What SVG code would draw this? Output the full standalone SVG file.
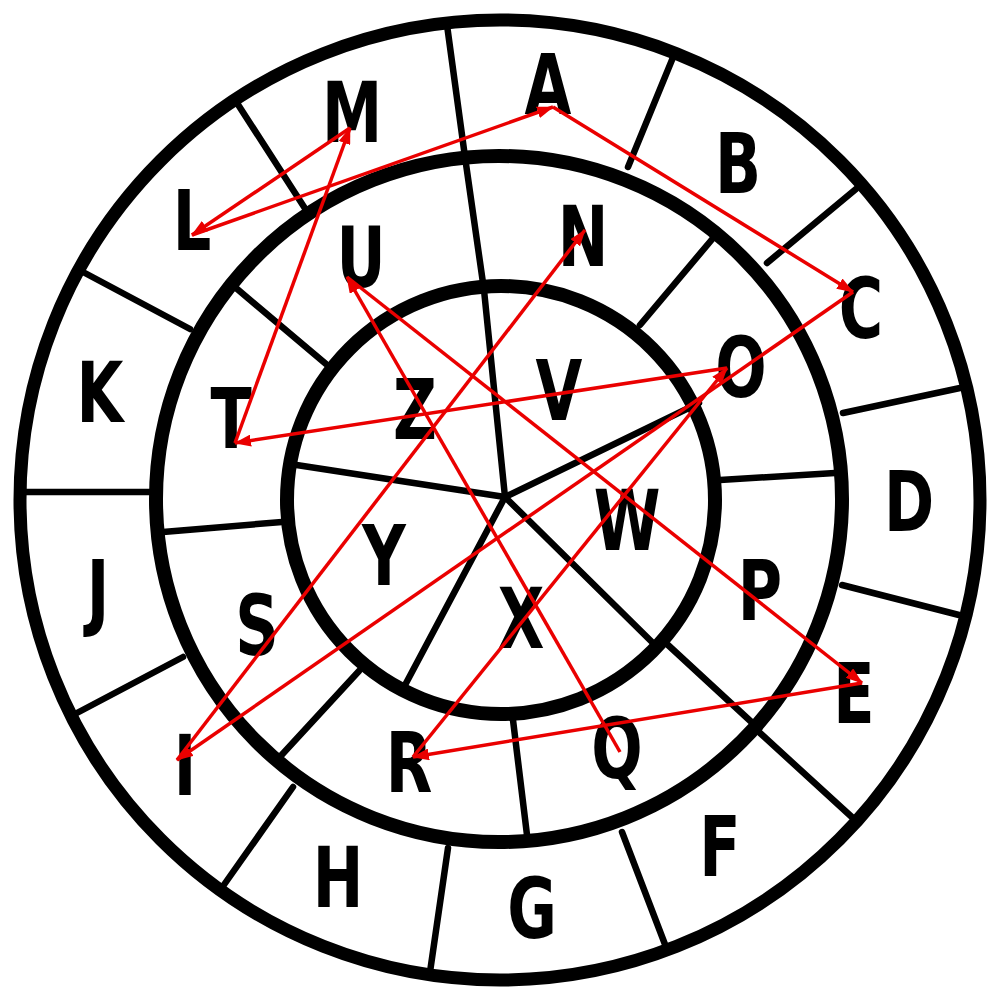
<svg xmlns="http://www.w3.org/2000/svg" width="1000" height="1000" viewBox="0 0 1000 1000">
<style>
.ring{fill:none;stroke:#000}
.sp{stroke:#000;stroke-width:6.5;stroke-linecap:round}
.lt{font-family:"DejaVu Sans Condensed","DejaVu Sans",sans-serif;font-stretch:condensed;font-weight:bold;font-size:84px;fill:#000;text-anchor:middle}
.ar{stroke:#ea0000;stroke-width:3.5;fill:none;marker-end:url(#ah)}
</style>
<defs>
<marker id="ah" markerUnits="userSpaceOnUse" markerWidth="17" markerHeight="12" refX="16" refY="6" orient="auto" viewBox="0 0 17 12">
<path d="M0,0 L17,6 L0,12 z" fill="#ea0000"/>
</marker>
</defs>
<rect width="1000" height="1000" fill="#fff"/>
<g id="rings">
<circle class="ring" cx="500" cy="500" r="480" stroke-width="13"/>
<circle class="ring" cx="499" cy="499" r="343" stroke-width="14"/>
<circle class="ring" cx="501" cy="500" r="214" stroke-width="14"/>
</g>
<g id="dividers">
<line class="sp" x1="447" y1="25" x2="465" y2="157"/>
<line class="sp" x1="674" y1="55" x2="628" y2="167"/>
<line class="sp" x1="856" y1="189" x2="767" y2="263"/>
<line class="sp" x1="960" y1="388" x2="843" y2="413"/>
<line class="sp" x1="959" y1="615" x2="842" y2="585"/>
<line class="sp" x1="854" y1="819" x2="760" y2="733"/>
<line class="sp" x1="666" y1="947" x2="622" y2="832"/>
<line class="sp" x1="430" y1="972" x2="448" y2="848"/>
<line class="sp" x1="221" y1="889" x2="293" y2="787"/>
<line class="sp" x1="75" y1="714" x2="183" y2="657"/>
<line class="sp" x1="25" y1="492" x2="150" y2="492"/>
<line class="sp" x1="83" y1="272" x2="190" y2="329"/>
<line class="sp" x1="237" y1="103" x2="306" y2="210"/>
<line class="sp" x1="465" y1="157" x2="484" y2="290"/>
<line class="sp" x1="714" y1="237" x2="640" y2="325"/>
<line class="sp" x1="835" y1="473" x2="720" y2="480"/>
<line class="sp" x1="759" y1="729" x2="668" y2="645"/>
<line class="sp" x1="513" y1="720" x2="527" y2="835"/>
<line class="sp" x1="277" y1="760" x2="359" y2="671"/>
<line class="sp" x1="163" y1="532" x2="282" y2="522"/>
<line class="sp" x1="236" y1="288" x2="326" y2="364"/>
<line class="sp" x1="505" y1="497" x2="484" y2="290"/>
<line class="sp" x1="505" y1="497" x2="699" y2="403"/>
<line class="sp" x1="505" y1="497" x2="656" y2="646"/>
<line class="sp" x1="505" y1="497" x2="404" y2="687"/>
<line class="sp" x1="505" y1="497" x2="290" y2="464"/>
</g>
<g id="letters">
<text id="A" class="lt" transform="translate(548,114) scale(0.8,1)">A</text>
<text id="B" class="lt" transform="translate(738,193) scale(0.8,1)">B</text>
<text id="C" class="lt" transform="translate(861,338) scale(0.8,1)">C</text>
<text id="D" class="lt" transform="translate(909,531) scale(0.8,1)">D</text>
<text id="E" class="lt" transform="translate(854,723) scale(0.8,1)">E</text>
<text id="F" class="lt" transform="translate(720,876) scale(0.8,1)">F</text>
<text id="G" class="lt" transform="translate(532,938) scale(0.8,1)">G</text>
<text id="H" class="lt" transform="translate(338,907) scale(0.8,1)">H</text>
<text id="I" class="lt" transform="translate(185,795) scale(0.8,1)">I</text>
<text id="J" class="lt" transform="translate(98,620) scale(0.8,1)">J</text>
<text id="K" class="lt" transform="translate(100,422) scale(0.8,1)">K</text>
<text id="L" class="lt" transform="translate(192,250) scale(0.8,1)">L</text>
<text id="M" class="lt" transform="translate(352,142) scale(0.8,1)">M</text>
<text id="N" class="lt" transform="translate(583,266) scale(0.8,1)">N</text>
<text id="O" class="lt" transform="translate(741,397) scale(0.8,1)">O</text>
<text id="P" class="lt" transform="translate(760,620) scale(0.8,1)">P</text>
<text id="Q" class="lt" transform="translate(617,778) scale(0.8,1)">Q</text>
<text id="R" class="lt" transform="translate(409,792) scale(0.8,1)">R</text>
<text id="S" class="lt" transform="translate(257,655) scale(0.8,1)">S</text>
<text id="T" class="lt" transform="translate(231,448) scale(0.8,1)">T</text>
<text id="U" class="lt" transform="translate(361,287) scale(0.8,1)">U</text>
<text id="V" class="lt" transform="translate(559,420) scale(0.8,1)">V</text>
<text id="W" class="lt" transform="translate(627,550) scale(0.8,1)">W</text>
<text id="X" class="lt" transform="translate(521,648) scale(0.8,1)">X</text>
<text id="Y" class="lt" transform="translate(384,585) scale(0.8,1)">Y</text>
<text id="Z" class="lt" transform="translate(415,439) scale(0.8,1)">Z</text>
</g>
<g id="connectors">
<line class="ar" x1="620" y1="752" x2="347" y2="277"/>
<line class="ar" x1="347" y1="277" x2="862" y2="683"/>
<line class="ar" x1="862" y1="683" x2="413" y2="757"/>
<line class="ar" x1="413" y1="757" x2="727" y2="368"/>
<line class="ar" x1="727" y1="368" x2="235" y2="443"/>
<line class="ar" x1="235" y1="443" x2="350" y2="128"/>
<line class="ar" x1="350" y1="128" x2="192" y2="235"/>
<line class="ar" x1="192" y1="235" x2="553" y2="107"/>
<line class="ar" x1="553" y1="107" x2="853" y2="292"/>
<line class="ar" x1="853" y1="292" x2="177" y2="760"/>
<line class="ar" x1="177" y1="760" x2="585" y2="230"/>
</g>
</svg>
